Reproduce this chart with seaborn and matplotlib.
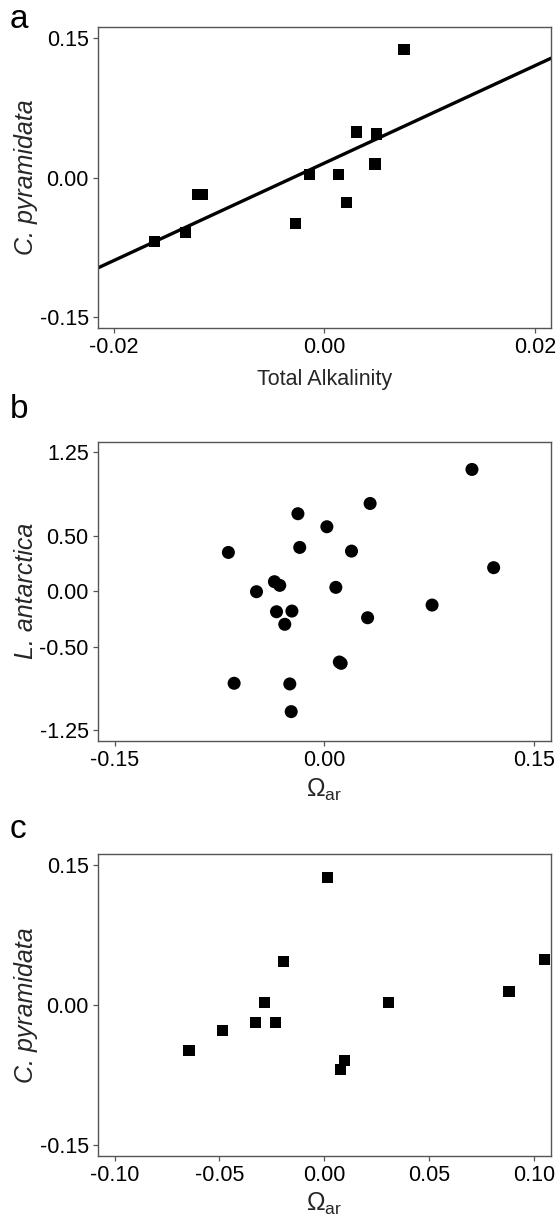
import matplotlib
matplotlib.use("Agg")
import matplotlib.pyplot as plt
import seaborn as sns
import pandas as pd

# panel a: C. pyramidata anomaly vs total alkalinity anomaly
alk_a = [-0.0161, -0.0132, -0.0120, -0.01156, -0.00276, -0.00139,
         0.00136, 0.00211, 0.00306, 0.00493, 0.0048, 0.00755]
cpyr_a = [-0.0687, -0.0591, -0.0186, -0.0186, -0.0490, 0.0032,
          0.0029, -0.0272, 0.0490, 0.0469, 0.0147, 0.1375]

# panel b: L. antarctica anomaly vs omega aragonite anomaly
omega_b = [-0.0686, -0.0645, -0.0485, -0.0357, -0.0319, -0.0342, -0.0283,
           -0.0232, -0.0247, -0.0237, -0.0189, -0.0176, 0.0018, 0.0082,
           0.0107, 0.0120, 0.0194, 0.0309, 0.0327, 0.0770, 0.1055, 0.1210]
lant_b = [0.350, -0.826, -0.003, 0.087, 0.054, -0.183, -0.296,
          -0.177, -0.832, -1.081, 0.698, 0.395, 0.581, 0.036,
          -0.635, -0.647, 0.362, -0.237, 0.790, -0.123, 1.096, 0.213]

# panel c: C. pyramidata anomaly vs omega aragonite anomaly
omega_c = [-0.0645, -0.0485, -0.0328, -0.0287, -0.0234, -0.0194,
           0.0015, 0.0078, 0.0096, 0.0305, 0.0880, 0.1050]
cpyr_c = [-0.0492, -0.0276, -0.0190, 0.0022, -0.0187, 0.0470,
          0.1371, -0.0693, -0.0599, 0.0022, 0.0144, 0.0488]

sns.set_theme(style="ticks")
plt.rcParams["font.family"] = ["Liberation Sans", "DejaVu Sans"]
plt.rcParams["mathtext.fontset"] = "custom"
plt.rcParams["mathtext.rm"] = "Liberation Sans"

spine_col = "#555555"
fs = 15.5

fig = plt.figure(figsize=(5.59, 12.25), dpi=100)
ax_a = fig.add_axes([0.1748, 0.7320, 0.8109, 0.2460])
ax_b = fig.add_axes([0.1748, 0.3951, 0.8109, 0.2443])
ax_c = fig.add_axes([0.1748, 0.0566, 0.8109, 0.2460])


def style_axis(ax, xlim, ylim, xticks, yticks, xlabels, ylabels):
    ax.set_xlim(xlim)
    ax.set_ylim(ylim)
    ax.set_xticks(xticks)
    ax.set_xticklabels(xlabels)
    ax.set_yticks(yticks)
    ax.set_yticklabels(ylabels)
    for s in ax.spines.values():
        s.set_color(spine_col)
        s.set_linewidth(1.0)
        s.set_visible(True)
    ax.tick_params(axis="both", direction="out", length=3.5, width=0.9,
                   color=spine_col, labelcolor="black", labelsize=fs, pad=3)


# a
df_a = pd.DataFrame({"x": alk_a, "y": cpyr_a})
ax_a.set_xlim(-0.0215, 0.0215)
sns.scatterplot(data=df_a, x="x", y="y", ax=ax_a, marker="s", s=64,
                color="black", edgecolor="none", linewidth=0)
sns.regplot(data=df_a, x="x", y="y", ax=ax_a, scatter=False, ci=None,
            truncate=False, color="black", line_kws={"linewidth": 2.4})
style_axis(ax_a, (-0.0215, 0.0215), (-0.162, 0.162),
           [-0.02, 0.0, 0.02], [-0.15, 0.0, 0.15],
           ["-0.02", "0.00", "0.02"], ["-0.15", "0.00", "0.15"])
ax_a.set_xlabel("Total Alkalinity", fontsize=fs, labelpad=8)
ax_a.set_ylabel("C. pyramidata", fontsize=18, style="italic", labelpad=1)

# b
df_b = pd.DataFrame({"x": omega_b, "y": lant_b})
sns.scatterplot(data=df_b, x="x", y="y", ax=ax_b, marker="o", s=88,
                color="black", edgecolor="none", linewidth=0)
style_axis(ax_b, (-0.162, 0.162), (-1.345, 1.345),
           [-0.15, 0.0, 0.15], [-1.25, -0.5, 0.0, 0.5, 1.25],
           ["-0.15", "0.00", "0.15"], ["-1.25", "-0.50", "0.00", "0.50", "1.25"])
ax_b.set_xlabel(r"$\mathregular{\Omega_{ar}}$", fontsize=18, labelpad=4)
ax_b.set_ylabel("L. antarctica", fontsize=18, style="italic", labelpad=1)

# c
df_c = pd.DataFrame({"x": omega_c, "y": cpyr_c})
sns.scatterplot(data=df_c, x="x", y="y", ax=ax_c, marker="s", s=64,
                color="black", edgecolor="none", linewidth=0)
style_axis(ax_c, (-0.108, 0.108), (-0.162, 0.162),
           [-0.10, -0.05, 0.0, 0.05, 0.10], [-0.15, 0.0, 0.15],
           ["-0.10", "-0.05", "0.00", "0.05", "0.10"], ["-0.15", "0.00", "0.15"])
ax_c.set_xlabel(r"$\mathregular{\Omega_{ar}}$", fontsize=18, labelpad=4)
ax_c.set_ylabel("C. pyramidata", fontsize=18, style="italic", labelpad=1)

# panel letters
for letter, ypix in [("a", 28), ("b", 418), ("c", 838)]:
    fig.text(10 / 559, 1 - ypix / 1225, letter, fontsize=24,
             ha="left", va="baseline", color="black")

fig.savefig("out.png", dpi=100, facecolor="white")
